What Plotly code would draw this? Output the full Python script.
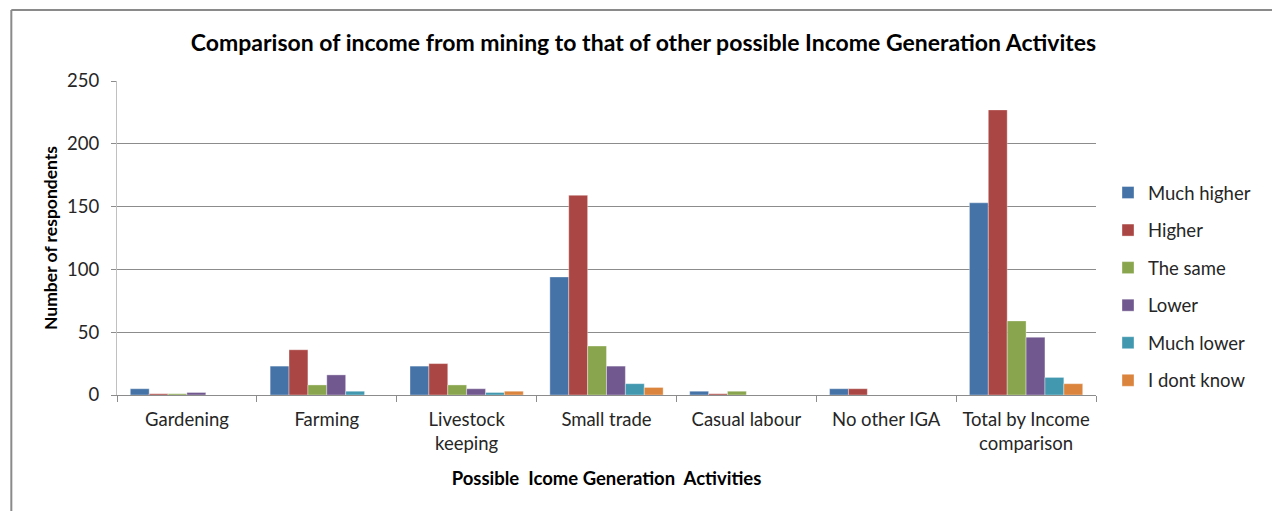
import plotly.graph_objects as go

# Possible income generation activities (x categories)
activities = [
    "Gardening",
    "Farming",
    "Livestock<br>keeping",
    "Small trade",
    "Casual labour",
    "No other IGA",
    "Total by Income<br>comparison",
]

# Income from mining compared to each activity
much_higher = [5, 23, 23, 94, 3, 5, 153]
higher = [1, 36, 25, 159, 1, 5, 227]
the_same = [1, 8, 8, 39, 3, 0, 59]
lower = [2, 16, 5, 23, 0, 0, 46]
much_lower = [0, 3, 2, 9, 0, 0, 14]
dont_know = [0, 0, 3, 6, 0, 0, 9]

series_names = ["Much higher", "Higher", "The same", "Lower", "Much lower", "I dont know"]
series_values = [much_higher, higher, the_same, lower, much_lower, dont_know]
series_colors = ["#4572A7", "#AA4643", "#89A54E", "#71588F", "#4198AF", "#DB843D"]

y_ticks = [0, 50, 100, 150, 200, 250]

FONT = "Lato, 'Open Sans', sans-serif"
W, H = 1272, 511
L, R, T, B = 117, 173, 81, 116

fig = go.Figure()
for i, (name, vals, col) in enumerate(zip(series_names, series_values, series_colors)):
    fig.add_trace(go.Bar(
        x=activities, y=vals, name=name,
        marker=dict(color=col, line=dict(color="rgba(255,255,255,0.6)", width=0.6)),
        legendgroup=f"g{i}",
    ))

pw, ph = W - L - R, H - T - B
def px_x(p):
    return (p - L) / pw
def px_y(p):
    return (H - B - p) / ph

# Outer chart frame (top and left edges)
frame = dict(type="line", xref="paper", yref="paper", line=dict(color="#8a8a8a", width=2))
shapes = [
    dict(frame, x0=px_x(11), x1=px_x(W + 5), y0=px_y(10), y1=px_y(10)),
    dict(frame, x0=px_x(11), x1=px_x(11), y0=px_y(10), y1=px_y(H + 5)),
]

fig.update_layout(
    width=W, height=H,
    margin=dict(l=L, r=R, t=T, b=B),
    paper_bgcolor="white", plot_bgcolor="white",
    font=dict(family=FONT, size=18.5, color="#262626"),
    barmode="group", bargap=0.19, bargroupgap=0,
    title=dict(
        text="<b>Comparison of income from mining to that of other possible Income Generation Activites</b>",
        x=(190 + 1097) / 2 / W, xanchor="center", y=1 - 43 / H, yanchor="middle",
        font=dict(family=FONT, size=23, color="#000000"),
    ),
    xaxis=dict(
        showgrid=False, showline=True, linecolor="#8c8c8c", linewidth=1,
        ticks="outside", tickson="boundaries", ticklen=6, tickcolor="#8c8c8c",
        ticklabelstandoff=8,
        tickfont=dict(size=18.5, color="#262626"),
        title=dict(text="<b>Possible  Icome Generation  Activities</b>", standoff=18,
                   font=dict(size=18.5, color="#000000")),
    ),
    yaxis=dict(
        range=[0, 250], tickvals=y_ticks, showgrid=True, gridcolor="#8c8c8c", gridwidth=1,
        showline=True, linecolor="#c0c0c0", linewidth=1,
        ticks="outside", ticklen=5, tickcolor="#8c8c8c",
        ticklabelstandoff=8,
        tickfont=dict(size=18.5, color="#262626"), zeroline=False,
        title=dict(text="<b>Number of respondents</b>", standoff=4,
                   font=dict(size=17.5, color="#000000")),
    ),
    legend=dict(
        xref="container", yref="container", x=1108 / W, xanchor="left",
        y=1 - 174 / H, yanchor="top", tracegroupgap=10.5, itemwidth=30,
        font=dict(size=18.5, color="#262626"), bgcolor="rgba(0,0,0,0)",
    ),
    shapes=shapes,
)

fig.write_html("out.html")
